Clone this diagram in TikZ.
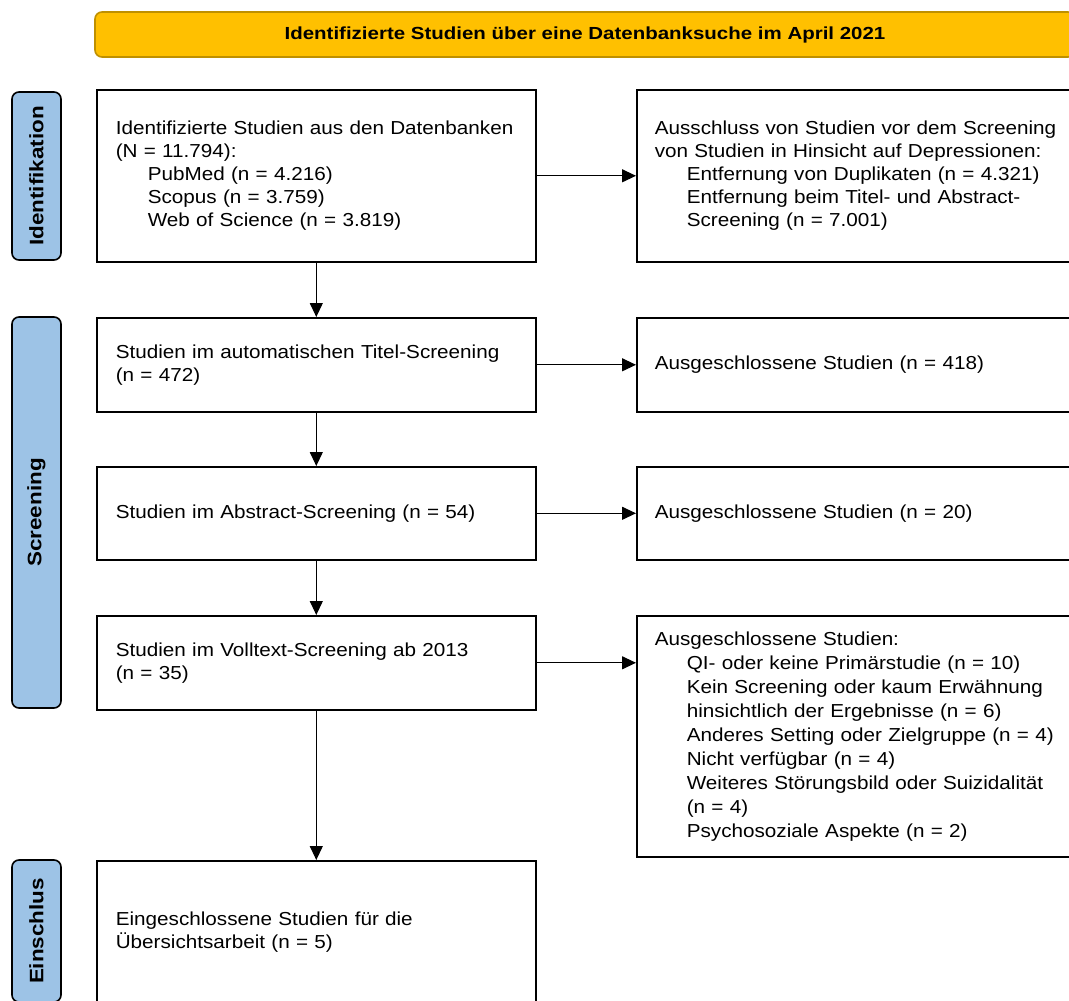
\documentclass[tikz,border=0pt]{standalone}
\usepackage{fontspec}
\setmainfont{Liberation Sans}
\newfontfamily\boxfont[FakeStretch=1.1]{Liberation Sans}
\newfontfamily\headfont[FakeStretch=1.17]{Liberation Sans}
\newfontfamily\phasefont[FakeStretch=1.15]{Liberation Sans}
\usetikzlibrary{arrows.meta}
\definecolor{bannerfill}{HTML}{FFC000}
\definecolor{bannerline}{HTML}{BF9000}
\definecolor{phasefill}{HTML}{9DC3E6}
\tikzset{
  stagebox/.style={draw, line width=1.6pt, anchor=north west, align=left,
    inner xsep=19pt, inner ysep=2pt, font=\boxfont\fontsize{18.8}{23}\selectfont},
  leftbox/.style={stagebox, minimum width=439pt, text width=401pt},
  rightbox/.style={stagebox, inner xsep=18pt, minimum width=520pt, text width=484pt},
  phase/.style={draw, line width=1.6pt, fill=phasefill, rounded corners=7pt,
    rotate=90, minimum height=49pt, inner sep=0pt,
    font=\phasefont\bfseries\fontsize{19.5}{22}\selectfont},
  flow/.style={-{Triangle[length=14pt,width=13pt]}, line width=1.2pt}
}
\newcommand{\ind}{\hspace*{32pt}}
\begin{document}
\begin{tikzpicture}[x=1pt,y=-1pt]
\useasboundingbox (0,0) rectangle (1069,1001);
\clip (0,0) rectangle (1069,1001);
% Banner
\node[draw=bannerline, line width=1.6pt, fill=bannerfill, rounded corners=7pt,
  minimum width=980pt, minimum height=45pt,
  font=\headfont\bfseries\fontsize{17.5}{20}\selectfont] (banner) at (585,34.5)
  {Identifizierte Studien über eine Datenbanksuche im April 2021};
% Phases
\node[phase, minimum width=168pt] (pident) at (36.5,176) {Identifikation};
\node[phase, minimum width=391pt] (pscreen) at (36.5,512.5) {Screening};
\node[phase, minimum width=142pt] (pincl) at (36.5,931) {Einschlus};
% Left column
\node[leftbox, minimum height=172pt] (ident) at (96,89)
  {Identifizierte Studien aus den Datenbanken\\(N = 11.794):\\
   \ind PubMed (n = 4.216)\\\ind Scopus (n = 3.759)\\\ind Web of Science (n = 3.819)};
\node[leftbox, minimum height=94pt] (title) at (96,317)
  {Studien im automatischen Titel-Screening\\(n = 472)};
\node[leftbox, minimum height=93pt] (abstr) at (96,466)
  {Studien im Abstract-Screening (n = 54)};
\node[leftbox, minimum height=94pt] (full) at (96,615)
  {Studien im Volltext-Screening ab 2013\\(n = 35)};
\node[leftbox, minimum height=142pt] (incl) at (96,860)
  {Eingeschlossene Studien für die\\Übersichtsarbeit (n = 5)};
% Right column
\node[rightbox, minimum height=172pt] (excl1) at (636,89)
  {Ausschluss von Studien vor dem Screening\\von Studien in Hinsicht auf Depressionen:\\
   \ind Entfernung von Duplikaten (n = 4.321)\\
   \ind Entfernung beim Titel- und Abstract-\\\ind Screening (n = 7.001)};
\node[rightbox, minimum height=94pt] (excl2) at (636,317)
  {Ausgeschlossene Studien (n = 418)};
\node[rightbox, minimum height=93pt] (excl3) at (636,466)
  {Ausgeschlossene Studien (n = 20)};
\node[rightbox, minimum height=241pt, font=\boxfont\fontsize{18.8}{24}\selectfont] (excl4) at (636,615)
  {Ausgeschlossene Studien:\\
   \ind QI- oder keine Primärstudie (n = 10)\\
   \ind Kein Screening oder kaum Erwähnung\\
   \ind hinsichtlich der Ergebnisse (n = 6)\\
   \ind Anderes Setting oder Zielgruppe (n = 4)\\
   \ind Nicht verfügbar (n = 4)\\
   \ind Weiteres Störungsbild oder Suizidalität\\
   \ind (n = 4)\\
   \ind Psychosoziale Aspekte (n = 2)};
% Arrows
\draw[flow] (ident) -- (title);
\draw[flow] (title) -- (abstr);
\draw[flow] (abstr) -- (full);
\draw[flow] (full) -- (incl);
\draw[flow] (ident.east) -- (ident.east -| excl1.west);
\draw[flow] (title.east) -- (title.east -| excl2.west);
\draw[flow] (abstr.east) -- (abstr.east -| excl3.west);
\draw[flow] (full.east) -- (full.east -| excl4.west);
\end{tikzpicture}
\end{document}
